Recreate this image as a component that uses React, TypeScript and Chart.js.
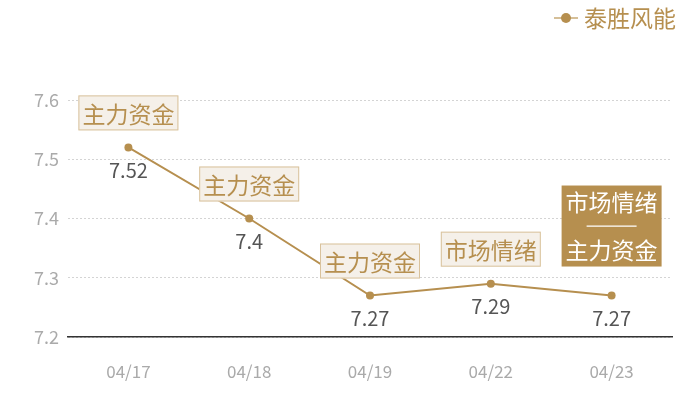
import { useEffect, useRef } from 'react';
import Chart from 'chart.js/auto';
import type { Plugin } from 'chart.js';

const dates = ['04/17', '04/18', '04/19', '04/22', '04/23'];
const prices = [7.52, 7.4, 7.27, 7.29, 7.27];
const notes: string[][] = [['主力资金'], ['主力资金'], ['主力资金'], ['市场情绪'], ['市场情绪', '主力资金']];
const seriesName = '泰胜风能';
const yMin = 7.2;
const yMax = 7.6;

const GOLD = '#b68f4f';
const FONT = "'Noto Sans CJK SC', 'Noto Sans', sans-serif";

export default function App() {
  const canvasRef = useRef<HTMLCanvasElement>(null);

  useEffect(() => {
    document.body.style.margin = '0';
    const canvas = canvasRef.current;
    if (!canvas) return;

    const overlay: Plugin = {
      id: 'overlay',
      afterDatasetsDraw(c) {
        const ctx = c.ctx;
        const meta = c.getDatasetMeta(0);
        ctx.save();
        // value labels under points
        ctx.font = `20px ${FONT}`;
        ctx.fillStyle = '#555';
        ctx.textAlign = 'center';
        ctx.textBaseline = 'middle';
        meta.data.forEach((pt, i) => {
          ctx.fillText(String(prices[i]), pt.x, pt.y + 23);
        });

        // note boxes above points
        ctx.font = `23px ${FONT}`;
        meta.data.forEach((pt, i) => {
          const lines = notes[i];
          if (!lines || !lines.length) return;
          const w = Math.max(...lines.map((l) => ctx.measureText(l).width)) + 8;
          const lineH = 35;
          const multi = lines.length > 1;
          const h = multi ? lineH * lines.length + 11 : lineH;
          const gap = multi ? 29 : 17;
          const left = pt.x - w / 2;
          const top = pt.y - gap - h;
          if (multi) {
            ctx.fillStyle = GOLD;
            ctx.fillRect(left, top, w, h);
            ctx.fillStyle = '#fff';
            ctx.fillText(lines[0], pt.x, top + 17);
            ctx.strokeStyle = '#fff';
            ctx.lineWidth = 1.2;
            ctx.beginPath();
            ctx.moveTo(pt.x - 25, top + h / 2);
            ctx.lineTo(pt.x + 25, top + h / 2);
            ctx.stroke();
            ctx.fillText(lines[1], pt.x, top + h - 16);
          } else {
            ctx.fillStyle = '#f5f0e9';
            ctx.fillRect(left, top, w, h);
            ctx.strokeStyle = '#d9c29c';
            ctx.lineWidth = 1;
            ctx.strokeRect(left + 0.5, top + 0.5, w - 1, h - 1);
            ctx.fillStyle = GOLD;
            ctx.fillText(lines[0], pt.x, top + h / 2 + 1);
          }
        });
        ctx.restore();
      },
      afterDraw(c) {
        // legend, top right
        const ctx = c.ctx;
        ctx.save();
        ctx.font = `23px ${FONT}`;
        ctx.textBaseline = 'middle';
        ctx.textAlign = 'right';
        const y = 18;
        const right = 676;
        const tw = ctx.measureText(seriesName).width;
        ctx.fillStyle = GOLD;
        ctx.fillText(seriesName, right, y);
        const lx = right - tw - 6;
        ctx.strokeStyle = '#d5bf98';
        ctx.lineWidth = 2;
        ctx.beginPath();
        ctx.moveTo(lx - 24, y);
        ctx.lineTo(lx, y);
        ctx.stroke();
        ctx.fillStyle = GOLD;
        ctx.beginPath();
        ctx.arc(lx - 12, y, 5, 0, Math.PI * 2);
        ctx.fill();
        ctx.restore();
      },
    };

    const chart = new Chart(canvas, {
      type: 'line',
      data: {
        labels: dates,
        datasets: [
          {
            label: seriesName,
            data: prices,
            borderColor: GOLD,
            backgroundColor: GOLD,
            borderWidth: 2,
            pointRadius: 4,
            pointBackgroundColor: GOLD,
            pointBorderWidth: 0,
            tension: 0,
            fill: false,
          },
        ],
      },
      options: {
        responsive: true,
        maintainAspectRatio: false,
        animation: false,
        layout: { padding: { top: 100, right: 28, left: 0, bottom: 0 } },
        plugins: {
          legend: { display: false },
          tooltip: { enabled: false },
        },
        scales: {
          x: {
            offset: true,
            grid: { display: false, drawTicks: false },
            border: { display: true, color: '#333', width: 1.5 },
            ticks: { color: '#aaa', font: { family: FONT, size: 17 }, padding: 24 },
            afterFit(scale) {
              scale.height = 63;
            },
          },
          y: {
            min: yMin,
            max: yMax,
            grid: { color: '#d4d4d4', drawTicks: false },
            border: { display: false, dash: [2, 2] },
            ticks: {
              stepSize: 0.1,
              color: '#aaa',
              font: { family: FONT, size: 18 },
              padding: 9,
              callback: (v) => Number(v).toFixed(1),
            },
            afterFit(scale) {
              scale.width = 68;
            },
          },
        },
      },
      plugins: [overlay],
    });

    return () => {
      chart.destroy();
    };
  }, []);

  return (
    <div style={{ width: 700, height: 400, position: 'relative' }}>
      <canvas ref={canvasRef} />
    </div>
  );
}
